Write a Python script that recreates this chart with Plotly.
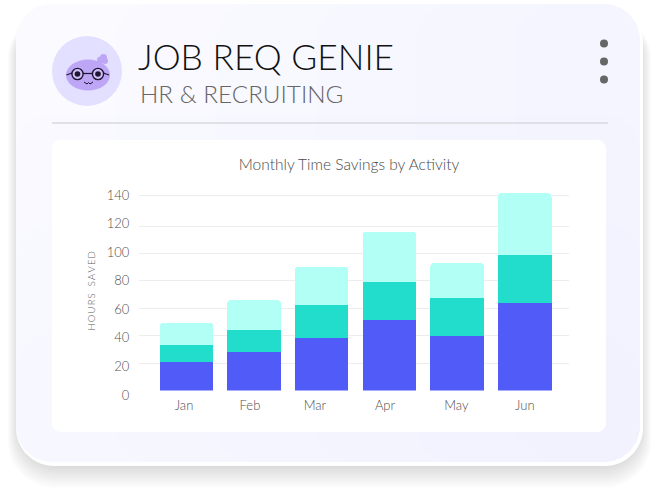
import plotly.graph_objects as go

W, H = 658, 495
months = ["Jan", "Feb", "Mar", "Apr", "May", "Jun"]
series_a = [21, 28, 38.5, 51.7, 40, 64]
series_b = [12, 16.5, 24, 27.8, 27.3, 35]
series_c = [16.5, 21.5, 28, 36.5, 25.7, 45]
tick_values = [0, 20, 40, 60, 80, 100, 120, 140]
grid_values = [0, 20, 40, 60, 80, 100, 120, 142.7]
month_label_slots = [-0.034, 0.94, 1.90, 2.935, 3.99, 5.0]

FONT = "Lato"
px = lambda x: x / W
py = lambda y: 1 - y / H


def rrect(x0, y0, x1, y1, r):
    c = r * 0.45
    pts = [("M", x0 + r, y0), ("L", x1 - r, y0),
           ("C", x1 - c, y0, x1, y0 + c, x1, y0 + r), ("L", x1, y1 - r),
           ("C", x1, y1 - c, x1 - c, y1, x1 - r, y1), ("L", x0 + r, y1),
           ("C", x0 + c, y1, x0, y1 - c, x0, y1 - r), ("L", x0, y0 + r),
           ("C", x0, y0 + c, x0 + c, y0, x0 + r, y0)]
    s = ""
    for p in pts:
        s += p[0] + " " + " ".join(
            f"{px(p[i]):.5f},{py(p[i + 1]):.5f}" for i in range(1, len(p), 2)) + " "
    return s + "Z"


def path(d, fill, opacity=1.0):
    return dict(type="path", xref="paper", yref="paper", path=d, fillcolor=fill,
                line=dict(width=0), opacity=opacity, layer="below")


def circ(cx, cy, rx, ry=None, fill="rgba(0,0,0,0)", lc=None, lw=0):
    ry = rx if ry is None else ry
    return dict(type="circle", xref="paper", yref="paper",
                x0=px(cx - rx), x1=px(cx + rx), y0=py(cy + ry), y1=py(cy - ry),
                fillcolor=fill, line=dict(color=lc or "rgba(0,0,0,0)", width=lw), layer="below")


def seg(x0, y0, x1, y1, color, lw):
    return dict(type="line", xref="paper", yref="paper", x0=px(x0), x1=px(x1),
                y0=py(y0), y1=py(y1), line=dict(color=color, width=lw), layer="below")


shapes = []
# soft card shadow
for i in range(14):
    g = 14 - i
    shapes.append(path(rrect(21 - g * .95, 16 - g * .2, 638 + g * .95, 461 + g * 1.9, 38 + g * .6), "#303030", 0.017))
# card
shapes.append(path(rrect(16, 4, 643, 466, 38), "#ffffff"))
shapes.append(path(rrect(16, 4, 640, 462, 36), "#fafaff"))
# faint left-to-right and top-to-bottom tint of the card
for i in range(1, 6):
    shapes.append(path(rrect(16 + 100 * i, 4, 640, 462, 36), "#a0a0f0", 0.017))
for i in range(1, 4):
    shapes.append(path(rrect(16, 4 + 110 * i, 640, 462, 36), "#a0a0f0", 0.017))
# inner panel
shapes.append(path(rrect(52, 140, 606, 432, 9), "#ffffff"))
# divider
shapes.append(seg(52, 123, 608, 123, "#d9d9dc", 1.5))
# menu dots
for y in (43.5, 61.5, 79.5):
    shapes.append(circ(604, y, 4, fill="#666666"))
# avatar
shapes.append(circ(87, 71, 35, fill="#e3e0ff"))
shapes.append(circ(103.5, 57.5, 3.5, fill="#bda6f6"))
shapes.append(circ(100.5, 60, 3.5, fill="#bda6f6"))
shapes.append(circ(105, 61, 3, fill="#bda6f6"))
shapes.append(circ(88, 75, 22, 15.5, fill="#bda6f6"))
for cx in (77.5, 98):
    shapes.append(circ(cx, 74, 5.6, fill="#cfbdf8", lc="#1c1630", lw=1.4))
    shapes.append(circ(cx, 74, 2.8, fill="#1c1630"))
shapes.append(seg(83, 73.5, 92.5, 73.5, "#1c1630", 1.2))
shapes.append(seg(66.5, 75, 72, 73, "#1c1630", 1.2))
shapes.append(seg(103.5, 73, 109, 75, "#1c1630", 1.2))
shapes.append(seg(84, 82, 87, 84, "#1c1630", 1))
shapes.append(seg(87, 84, 88.5, 82.5, "#1c1630", 1))
shapes.append(seg(88.5, 82.5, 90, 84, "#1c1630", 1))
shapes.append(seg(90, 84, 93, 82, "#1c1630", 1))

fig = go.Figure()
for name, vals, col in (("Series A", series_a, "#515cf8"),
                        ("Series B", series_b, "#22ddcb"),
                        ("Series C", series_c, "#b2fff6")):
    fig.add_trace(go.Bar(x=list(range(len(months))), y=vals, name=name,
                         marker=dict(color=col, line=dict(width=0)),
                         width=0.79, xaxis="x", yaxis="y", customdata=months,
                         hovertemplate="%{customdata}: %{y}<extra></extra>"))
# carry the printed tick labels
fig.add_trace(go.Scatter(x=[0], y=[0], mode="markers", marker=dict(opacity=0, size=1),
                         xaxis="x", yaxis="y2", hoverinfo="skip", showlegend=False))
fig.add_trace(go.Scatter(x=[0], y=[0], mode="markers", marker=dict(opacity=0, size=1),
                         xaxis="x2", yaxis="y", hoverinfo="skip", showlegend=False))

S1 = 1.37
y_top, y_zero = 170, 390.5
lab_bottom = 400
S2 = 200 / 140
x_range = [(139 - 186.3) / 67.7, (569 - 186.3) / 67.7]

fig.update_layout(
    width=W, height=H, margin=dict(l=0, r=0, t=0, b=0, pad=0, autoexpand=False),
    paper_bgcolor="#ffffff", plot_bgcolor="rgba(0,0,0,0)",
    barmode="stack", barcornerradius=4, showlegend=False,
    font=dict(family=FONT, color="#555555", size=12),
    title=dict(text="Monthly Time Savings by Activity", x=px(349), y=py(165), xanchor="center",
               yanchor="middle", xref="paper", yref="paper",
               font=dict(family=FONT, size=15.5, color="#4a4a4a", weight=300)),
    xaxis=dict(domain=[px(139), px(569)], range=x_range, anchor="y", showgrid=False,
               showline=False, zeroline=False, showticklabels=False, ticks=""),
    xaxis2=dict(domain=[px(139), px(569)], range=x_range, anchor="y", overlaying="x", side="bottom",
                tickmode="array", tickvals=month_label_slots, ticktext=months, showgrid=False,
                showline=False, zeroline=False, ticks="outside", ticklen=3, tickcolor="rgba(0,0,0,0)",
                tickfont=dict(family=FONT, size=13, color="#4f4f4f", weight=300)),
    yaxis=dict(domain=[py(y_zero), py(y_top)], range=[0, (y_zero - y_top) / S1], anchor="x",
               tickmode="array", tickvals=grid_values, ticktext=[""] * len(grid_values),
               showgrid=True, gridcolor="#ededed", gridwidth=1.3, zeroline=False, showline=False, ticks=""),
    yaxis2=dict(domain=[py(lab_bottom), py(y_top)],
                range=[(395 - lab_bottom) / S2, (395 - y_top) / S2], anchor="x",
                tickmode="array", tickvals=tick_values, showgrid=False, zeroline=False, showline=False,
                ticks="outside", ticklen=6, tickcolor="rgba(0,0,0,0)",
                tickfont=dict(family=FONT, size=13, color="#4f4f4f", weight=300)),
    shapes=shapes,
    annotations=[
        dict(text="JOB REQ GENIE", xref="paper", yref="paper", x=px(136), y=py(56.5), xanchor="left",
             yanchor="middle", showarrow=False, font=dict(family=FONT, size=35.3, color="#111111", weight=300)),
        dict(text="HR &amp; RECRUITING", xref="paper", yref="paper", x=px(138), y=py(93), xanchor="left",
             yanchor="middle", showarrow=False, font=dict(family=FONT, size=24.3, color="#666666", weight=300)),
        dict(text="H\u2009O\u2009U\u2009R\u2009S\u2003S\u2009A\u2009V\u2009E\u2009D", xref="paper", yref="paper",
             x=px(91), y=py(291.5), xanchor="center", yanchor="middle", textangle=-90, showarrow=False,
             font=dict(family=FONT, size=9.5, color="#5a5a5a", weight=300)),
    ],
)

fig.write_html("out.html", config=dict(displayModeBar=False),
               post_script="document.body.style.margin='0';")
